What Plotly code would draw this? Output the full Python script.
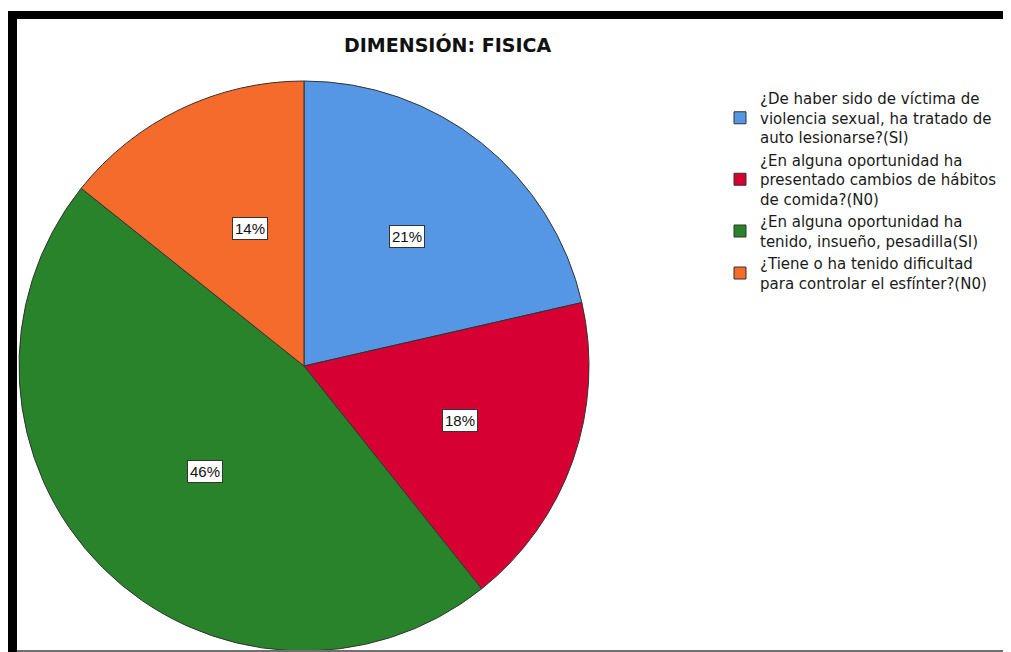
import math
import plotly.graph_objects as go

title = "DIMENSIÓN: FISICA"
labels = [
    "¿De haber sido de víctima de<br>violencia sexual, ha tratado de<br>auto lesionarse?(SI)",
    "¿En alguna oportunidad ha<br>presentado cambios de hábitos<br>de comida?(N0)",
    "¿En alguna oportunidad ha<br>tenido, insueño, pesadilla(SI)",
    "¿Tiene o ha tenido dificultad<br>para controlar el esfínter?(N0)",
]
values = [6, 5, 13, 4]
colors = ["#5597E4", "#D60032", "#29832A", "#F46B2C"]

W, H = 1011, 652
OFF = 8  # page body margin in the browser
cx, cy, R = 304 - OFF, 366 - OFF, 285  # pixel centre / radius of pie (figure coords)


def px(x):
    return (x - OFF) / W


def py(y):
    return 1 - (y - OFF) / H


fig = go.Figure(go.Pie(
    labels=labels, values=values, sort=False, direction="clockwise", rotation=0,
    marker=dict(colors=colors, line=dict(color="#333333", width=1)),
    textinfo="none", hoverinfo="label+percent",
    domain=dict(x=[(cx - R) / W, (cx + R) / W], y=[(H - cy - R) / H, (H - cy + R) / H]),
))

# percentage labels in boxes, placed from the data
total = sum(values)
cum = 0
for v in values:
    mid = (cum + v / 2) / total * 2 * math.pi
    cum += v
    rf = 0.58
    lx = cx + rf * R * math.sin(mid)
    ly = cy - rf * R * math.cos(mid)
    fig.add_annotation(
        x=lx / W, y=1 - ly / H, xref="paper", yref="paper",
        text=f"{round(100 * v / total)}%", showarrow=False,
        font=dict(family="Liberation Sans, Arial", size=15, color="#111111"),
        bgcolor="white", bordercolor="#333333", borderwidth=1, borderpad=2,
    )

fig.add_annotation(
    x=px(447), y=py(31), xref="paper", yref="paper", text=f"<b>{title}</b>",
    showarrow=False, font=dict(family="DejaVu Sans", size=19, color="#111111"),
)

shapes = [
    dict(type="rect", xref="paper", yref="paper", x0=px(8), x1=1, y0=py(19), y1=py(11),
         fillcolor="black", line=dict(width=0)),
    dict(type="rect", xref="paper", yref="paper", x0=px(8), x1=px(17), y0=0, y1=py(11),
         fillcolor="black", line=dict(width=0)),
    dict(type="line", xref="paper", yref="paper", x0=px(17), x1=1, y0=py(651), y1=py(651),
         line=dict(color="#707070", width=2)),
]

fig.update_layout(
    width=W, height=H, autosize=False,
    margin=dict(l=0, r=0, t=0, b=0),
    paper_bgcolor="white", plot_bgcolor="white",
    shapes=shapes,
    legend=dict(
        x=px(720), y=py(82), xanchor="left", yanchor="top",
        font=dict(family="DejaVu Sans", size=15, color="#1a1a1a"),
        tracegroupgap=0, itemwidth=30, bgcolor="rgba(0,0,0,0)",
    ),
)

fig.write_html("out.html")
